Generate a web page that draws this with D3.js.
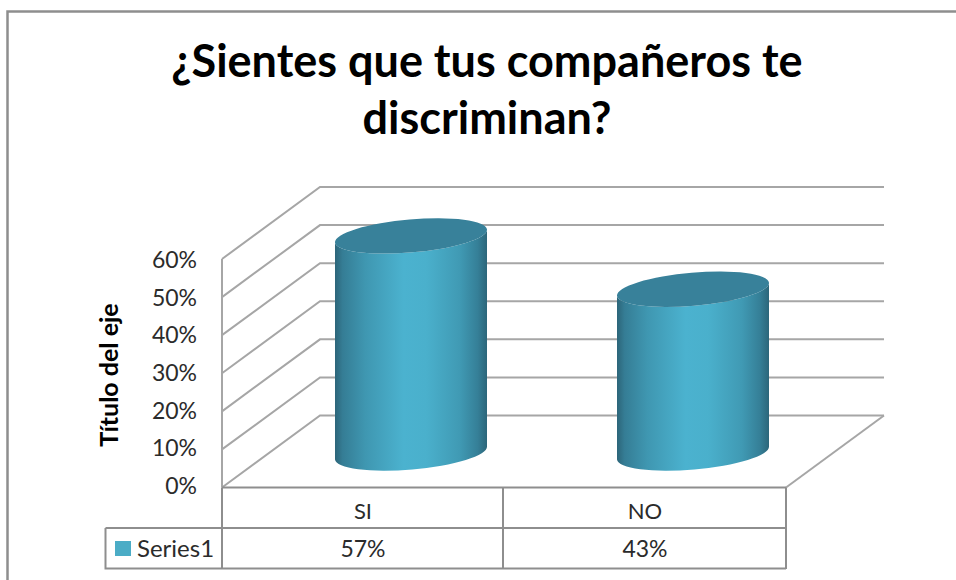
<!DOCTYPE html>
<html><head><meta charset="utf-8">
<script src="https://cdn.jsdelivr.net/npm/d3@7/dist/d3.min.js"></script>
<style>html,body{margin:0;background:#fff}svg{display:block}</style>
</head><body><svg id="c" width="956" height="580"></svg>
<script>
const categories = ["SI", "NO"];
const seriesName = "Series1";
const seriesValues = [0.57, 0.43];
const valueTicks = [0, 0.1, 0.2, 0.3, 0.4, 0.5, 0.6];
const titleLines = ["¿Sientes que tus compañeros te", "discriminan?"];
const axisTitle = "Título del eje";

const FONT = "Lato,'Open Sans',sans-serif";
const GRID = "#a6a6a6", BORDER = "#8e8e8e", INK = "#2b2b2b";
const svg = d3.select("#c");
const defs = svg.append("defs");

// Chart frame, cut off by the page on its right and bottom sides
svg.append("path").attr("d", "M7.5 580V11.5H956").attr("fill", "none")
  .attr("stroke", BORDER).attr("stroke-width", 2.5);

svg.append("g").selectAll("text").data(titleLines).join("text")
  .attr("x", 487).attr("y", (d, i) => 77 + i * 57)
  .attr("text-anchor", "middle").attr("font-family", FONT)
  .attr("font-weight", 700).attr("font-size", 45).attr("fill", "#000").text(d => d);

// Front plane of the 3D plot; the back wall is offset by a fixed depth
const y = d3.scaleLinear().domain([0, 0.6]).range([487.5, 259]);
const labelY = d3.scaleLinear().domain([0, 0.6]).range([485.5, 260]);
const x = d3.scaleBand().domain(categories).range([222, 786]);
const depth = { dx: 98, dy: -72 };
const backRight = 884;

const grid = svg.append("g").attr("fill", "none").attr("stroke", GRID).attr("stroke-width", 2);
grid.selectAll("path.g").data(valueTicks).join("path").attr("class", "g")
  .attr("d", t => `M${x.range()[0]} ${y(t)}L${x.range()[0] + depth.dx} ${y(t) + depth.dy}H${backRight}`);
grid.append("path").attr("d", `M${x.range()[0]} ${y(0)}V${y(0.6)}`);
grid.append("path").attr("d", `M${x.range()[1]} ${y(0)}L${backRight} ${y(0) + depth.dy}`);

svg.append("g").selectAll("text").data(valueTicks).join("text")
  .attr("x", 197).attr("y", t => labelY(t)).attr("dy", "0.36em").attr("text-anchor", "end")
  .attr("font-family", FONT).attr("font-size", 23).attr("fill", INK).text(d3.format(".0%"));

svg.append("text").attr("transform", "translate(118,375) rotate(-90)")
  .attr("text-anchor", "middle").attr("font-family", FONT).attr("font-weight", 700)
  .attr("font-size", 25).attr("fill", "#000").text(axisTitle);

// Cylinders: the base ellipse sits on the floor, the height follows the value
const barGrad = defs.append("linearGradient").attr("id", "barFill");
[[0, "#2c6579"], [0.05, "#357d95"], [0.2, "#3f97b1"], [0.45, "#4bb2cf"], [0.6, "#4ab0cc"], [0.82, "#409ab4"], [0.94, "#357f97"], [1, "#2c667a"]]
  .forEach(([o, c]) => barGrad.append("stop").attr("offset", o).attr("stop-color", c));

const rx = 76, ry = 16.5, skew = -6.5;
const floorCy = 453;
const scaleH = d3.scaleLinear().domain([0, 0.6]).range([0, y(0) - y(0.6)]);
const centers = { SI: 411, NO: 693 };
const tilt = Math.atan2(skew, rx) * 180 / Math.PI;
const rr = Math.hypot(rx, skew);
const bars = svg.append("g").selectAll("g").data(categories).join("g");
bars.each(function (c, i) {
  const g = d3.select(this), cx = centers[c], top = floorCy - scaleH(seriesValues[i]);
  g.append("path").attr("fill", "url(#barFill)")
    .attr("d", `M${cx - rx} ${top - skew}V${floorCy - skew}A${rr} ${ry} ${tilt} 0 0 ${cx + rx} ${floorCy + skew}V${top + skew}A${rr} ${ry} ${tilt} 0 1 ${cx - rx} ${top - skew}Z`);
  g.append("ellipse").attr("cx", cx).attr("cy", top).attr("rx", rr).attr("ry", ry)
    .attr("transform", `rotate(${tilt} ${cx} ${top})`).attr("fill", "#38819a");
});

// Data table under the plot
const tbl = svg.append("g").attr("fill", "none").attr("stroke", BORDER).attr("stroke-width", 2);
tbl.append("path").attr("d", "M222 487.500H786M222 487.500V569M503 487.500V569M786 487.500V569M105.500 528H786M105.500 528V568.500H786");
const cellX = d => x(d) + x.bandwidth() / 2;
const cells = svg.append("g").attr("font-family", FONT).attr("font-size", 23).attr("fill", INK).attr("text-anchor", "middle");
cells.selectAll("text.c").data(categories).join("text").attr("class", "c")
  .attr("x", cellX).attr("y", 519).attr("font-size", 22).text(d => d);
cells.selectAll("text.v").data(seriesValues).join("text").attr("class", "v")
  .attr("x", (d, i) => cellX(categories[i])).attr("y", 557).text(d3.format(".0%"));
svg.append("rect").attr("x", 115).attr("y", 541).attr("width", 16).attr("height", 15).attr("fill", "#4bacc6");
svg.append("text").attr("x", 137).attr("y", 557).attr("font-family", FONT).attr("font-size", 24).attr("fill", INK).text(seriesName);
</script></body></html>
